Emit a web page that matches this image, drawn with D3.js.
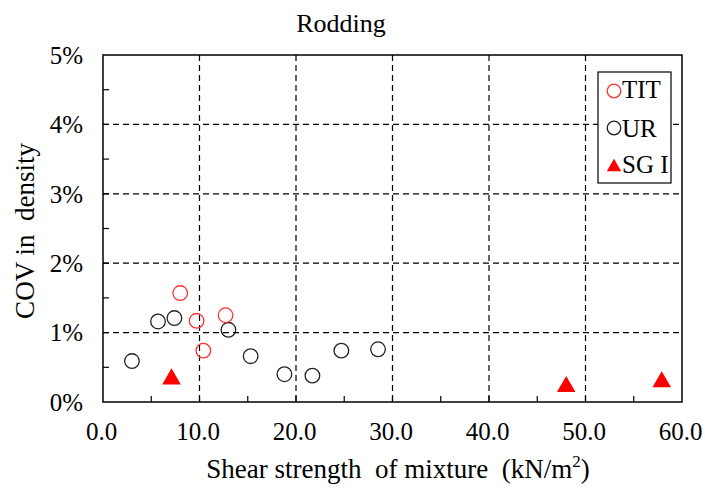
<!DOCTYPE html>
<html><head><meta charset="utf-8">
<script src="https://cdn.jsdelivr.net/npm/d3@7"></script>
<style>body{margin:0;background:#fff}svg{display:block}</style>
</head><body>
<svg id="c" width="705" height="491"></svg>
<script>
const titText = "Rodding";
const xLabel = "Shear strength  of mixture  (kN/m";
const yLabel = "COV in  density";
const xTicks = [0,10,20,30,40,50,60];
const yTicks = [0,0.01,0.02,0.03,0.04,0.05];
const titX = [8.0, 9.7, 12.7, 10.4];
const titY = [0.0157, 0.0117, 0.0125, 0.0074];
const urX = [3.0, 5.7, 7.4, 13.0, 15.3, 18.8, 21.7, 24.7, 28.5];
const urY = [0.0059, 0.0116, 0.0121, 0.0104, 0.0066, 0.0040, 0.0038, 0.0074, 0.0076];
const sgiX = [7.1, 48.0, 57.9];
const sgiY = [0.0033, 0.0022, 0.0029];
const legendNames = ["TIT","UR","SG I"];

const FF = '"Liberation Serif","Times New Roman",serif';
const svg = d3.select("#c");
const L=103,R=682,T=55,B=402;
const x = d3.scaleLinear().domain([0,60]).range([L,R]);
const y = d3.scaleLinear().domain([0,0.05]).range([B,T]);

// grid
const g = svg.append("g");
xTicks.slice(1,-1).forEach(v=>g.append("line").attr("x1",x(v)).attr("x2",x(v)).attr("y1",T).attr("y2",B)
  .attr("stroke","#000").attr("stroke-width",1.2).attr("stroke-dasharray","6,4"));
yTicks.slice(1,-1).forEach(v=>g.append("line").attr("x1",L).attr("x2",R).attr("y1",y(v)).attr("y2",y(v))
  .attr("stroke","#000").attr("stroke-width",1.2).attr("stroke-dasharray","6,4"));

// minor ticks
d3.range(5,60,5).forEach(v=>svg.append("line").attr("x1",x(v)).attr("x2",x(v)).attr("y1",B).attr("y2",B-6).attr("stroke","#000").attr("stroke-width",1.2));
d3.range(0.005,0.05,0.005).forEach(v=>svg.append("line").attr("x1",L).attr("x2",L+6).attr("y1",y(v)).attr("y2",y(v)).attr("stroke","#000").attr("stroke-width",1.2));

svg.append("rect").attr("x",L).attr("y",T).attr("width",R-L).attr("height",B-T).attr("fill","none").attr("stroke","#000").attr("stroke-width",1.5);

// axes labels
const xa = d3.axisBottom(x).tickValues(xTicks).tickFormat(d3.format(".1f")).tickSize(0).tickPadding(0);
const xg = svg.append("g").attr("transform",`translate(0,${B})`).call(xa);
xg.select(".domain").remove();
xg.selectAll("text").attr("dy",null).attr("y",38).attr("x",-2).style("font-size","25px").style("fill","#000").style("font-family",FF);
const ya = d3.axisLeft(y).tickValues(yTicks).tickFormat(d3.format(".0%")).tickSize(0).tickPadding(0);
const yg = svg.append("g").attr("transform",`translate(${L},0)`).call(ya);
yg.select(".domain").remove();
yg.selectAll("text").attr("x",-20).attr("dy","0.33em").style("font-size","25px").style("fill","#000").style("font-family",FF);

svg.append("text").attr("x",341).attr("y",32).attr("text-anchor","middle").style("font-family",FF).style("font-size","26px").text(titText);
const xl = svg.append("text").attr("x",398).attr("y",478).attr("text-anchor","middle").style("font-family",FF).style("font-size","27px").style("white-space","pre");
xl.append("tspan").text(xLabel);
xl.append("tspan").style("font-size","17px").attr("dy",-11).text("2");
xl.append("tspan").attr("dy",11).text(")");
svg.append("text").attr("transform","translate(34,231) rotate(-90)").attr("text-anchor","middle").style("font-family",FF).style("font-size","27px").style("white-space","pre").text(yLabel);

// data
const tri = d3.symbol().type(d3.symbolTriangle).size(150);
svg.append("g").selectAll("circle").data(urX.map((v,i)=>[v,urY[i]])).join("circle")
  .attr("cx",d=>x(d[0])).attr("cy",d=>y(d[1])).attr("r",7.3).attr("fill","none").attr("stroke","#222").attr("stroke-width",1.3);
svg.append("g").selectAll("circle").data(titX.map((v,i)=>[v,titY[i]])).join("circle")
  .attr("cx",d=>x(d[0])).attr("cy",d=>y(d[1])).attr("r",7.3).attr("fill","none").attr("stroke","#ff3333").attr("stroke-width",1.3);
svg.append("g").selectAll("path").data(sgiX.map((v,i)=>[v,sgiY[i]])).join("path")
  .attr("d",tri).attr("transform",d=>`translate(${x(d[0])},${y(d[1])})`).attr("fill","#ff0000");

// legend
const lg = svg.append("g");
lg.append("rect").attr("x",598).attr("y",72).attr("width",73).attr("height",111).attr("fill","#fff").attr("stroke","#000").attr("stroke-width",1.2);
const markerY = [91, 128, 166];
const textY = [98, 137, 173];
legendNames.forEach((name,i)=>{
  const cy = markerY[i];
  if(i===2) lg.append("path").attr("d",d3.symbol().type(d3.symbolTriangle).size(90)).attr("transform",`translate(614,${cy+1})`).attr("fill","#ff0000");
  else lg.append("circle").attr("cx",614).attr("cy",cy).attr("r",6.8).attr("fill","none").attr("stroke",i===0?"#ff3333":"#222").attr("stroke-width",1.3);
  lg.append("text").attr("x",622).attr("y",textY[i]).style("font-family",FF).style("font-size","25px").style("white-space","pre").text(name);
});
</script>
</body></html>
